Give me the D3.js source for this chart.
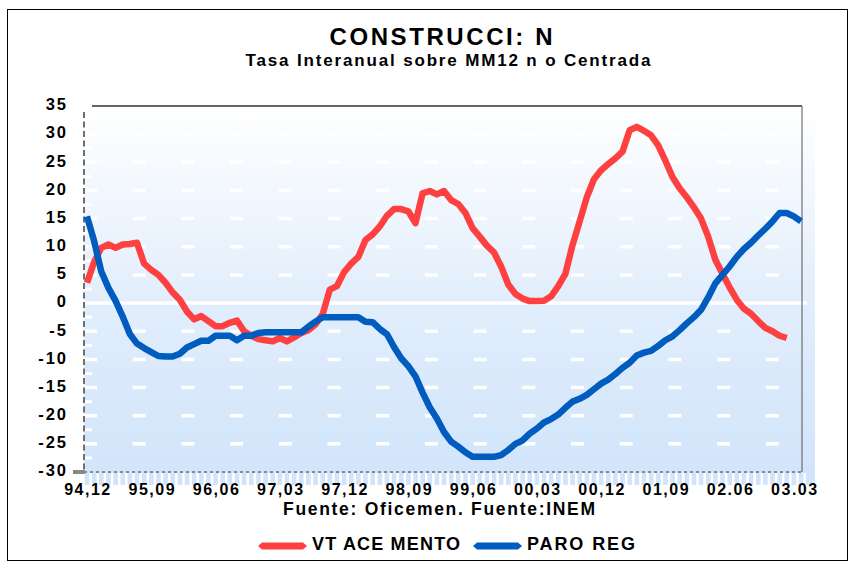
<!DOCTYPE html>
<html>
<head>
<meta charset="utf-8">
<script src="https://cdn.jsdelivr.net/npm/d3@7"></script>
<style>
  body { margin: 0; background: #fff; }
  svg { display: block; font-family: "Liberation Sans", Arial, sans-serif; font-weight: bold; }
</style>
</head>
<body>
<div id="chart"></div>
<script>
// ---------------------------------------------------------------------------
// Data (monthly, starting 94,12)
// ---------------------------------------------------------------------------
const tickIndex  = [0, 9, 18, 27, 36, 45, 54, 63, 72, 81, 90, 99];
const tickLabels = ['94,12', '95,09', '96,06', '97,03', '97,12', '98,09',
                    '99,06', '00,03', '00,12', '01,09', '02.06', '03.03'];
const yTicks     = [35, 30, 25, 20, 15, 10, 5, 0, -5, -10, -15, -20, -25, -30];

const vtAcemento = [
  3.6, 7.3, 9.8, 10.4, 9.8, 10.4, 10.5, 10.7, 7.0, 5.9,
  5.0, 3.6, 1.9, 0.6, -1.5, -2.9, -2.3, -3.2, -4.1, -4.1,
  -3.5, -3.1, -5.0, -5.8, -6.4, -6.6, -6.8, -6.2, -6.8, -6.1,
  -5.3, -4.8, -3.8, -2.0, 2.4, 3.0, 5.5, 7.0, 8.2, 11.2,
  12.2, 13.6, 15.5, 16.7, 16.7, 16.3, 14.2, 19.5, 19.9, 19.3,
  19.9, 18.3, 17.6, 16.0, 13.3, 11.8, 10.2, 9.0, 6.5, 3.3,
  1.6, 0.8, 0.35, 0.35, 0.4, 1.2, 3.0, 5.2, 10.3, 14.5,
  18.8, 22.0, 23.6, 24.7, 25.7, 26.9, 30.7, 31.3, 30.6, 29.8,
  28.0, 25.3, 22.4, 20.4, 18.8, 17.0, 15.0, 11.8, 7.7, 5.2,
  2.8, 0.6, -1.0, -1.9, -3.2, -4.4, -5.0, -5.8, -6.2
];

const paroReg = [
  15.4, 11.0, 5.6, 2.7, 0.4, -2.4, -5.5, -7.2, -8.0, -8.7,
  -9.4, -9.5, -9.5, -9.0, -7.9, -7.3, -6.7, -6.7, -5.8, -5.8,
  -5.8, -6.6, -5.8, -5.8, -5.3, -5.2, -5.2, -5.2, -5.2, -5.2,
  -5.2, -4.2, -3.3, -2.5, -2.5, -2.5, -2.5, -2.5, -2.5, -3.3,
  -3.4, -4.6, -5.5, -7.8, -9.8, -11.2, -13.0, -15.9, -18.5, -20.5,
  -22.9, -24.6, -25.5, -26.5, -27.3, -27.3, -27.3, -27.3, -27.0, -26.1,
  -25.0, -24.4, -23.2, -22.3, -21.2, -20.6, -19.8, -18.6, -17.5, -17.0,
  -16.3, -15.3, -14.3, -13.6, -12.6, -11.5, -10.6, -9.3, -8.8, -8.5,
  -7.6, -6.6, -5.9, -4.8, -3.6, -2.5, -1.2, 1.0, 3.5, 5.0,
  6.5, 8.2, 9.6, 10.7, 12.0, 13.2, 14.5, 16.0, 16.0, 15.4,
  14.5
];

// ---------------------------------------------------------------------------
// Setup
// ---------------------------------------------------------------------------
const W = 854, H = 565;
const COL_RED  = '#ff4040';
const COL_BLUE = '#005cbf';

const svg = d3.select('#chart').append('svg')
  .attr('width', W)
  .attr('height', H);

const x = d3.scaleLinear().domain([0, 100]).range([87, 801]);
const y = d3.scaleLinear().domain([-30, 35]).range([472, 106]);

// outer frame
svg.append('rect')
  .attr('x', 7.5).attr('y', 9.5)
  .attr('width', 840).attr('height', 551)
  .attr('fill', 'none')
  .attr('stroke', '#000')
  .attr('stroke-width', 1);

// titles
svg.append('text')
  .attr('x', 441).attr('y', 45)
  .attr('text-anchor', 'middle')
  .attr('font-size', 24)
  .attr('textLength', 223).attr('lengthAdjust', 'spacing')
  .text('CONSTRUCCI: N');

svg.append('text')
  .attr('x', 448).attr('y', 65.5)
  .attr('text-anchor', 'middle')
  .attr('font-size', 17)
  .attr('textLength', 405).attr('lengthAdjust', 'spacing')
  .text('Tasa Interanual sobre MM12 n o Centrada');

// ---------------------------------------------------------------------------
// Plot background
// ---------------------------------------------------------------------------
const defs = svg.append('defs');
const grad = defs.append('linearGradient')
  .attr('id', 'bg').attr('x1', 0).attr('y1', 0).attr('x2', 0).attr('y2', 1);
grad.append('stop').attr('offset', '0%').attr('stop-color', '#ffffff');
grad.append('stop').attr('offset', '50%').attr('stop-color', '#e2eefc');
grad.append('stop').attr('offset', '100%').attr('stop-color', '#d0e4fa');

svg.append('rect')
  .attr('x', 84).attr('y', 106)
  .attr('width', 731).attr('height', 379)
  .attr('fill', 'url(#bg)');

// white month ticks below the axis
svg.append('g')
  .selectAll('line')
  .data(d3.range(0, 102))
  .join('line')
  .attr('x1', d => x(d) - 3.5).attr('x2', d => x(d) - 3.5)
  .attr('y1', 473).attr('y2', 485)
  .attr('stroke', '#fff')
  .attr('stroke-width', 2.5);

// dashed grid
svg.append('g')
  .selectAll('line')
  .data(yTicks.filter(v => v !== 0 && v !== 35 && v !== -30))
  .join('line')
  .attr('x1', 84).attr('x2', 802)
  .attr('y1', d => y(d)).attr('y2', d => y(d))
  .attr('stroke', '#fff')
  .attr('stroke-width', 3.5)
  .attr('stroke-dasharray', '13,35.7');

// short minor marks on the left edge
svg.append('g')
  .selectAll('line')
  .data(d3.range(-27.5, 35, 5))
  .join('line')
  .attr('x1', 84).attr('x2', 92)
  .attr('y1', d => y(d)).attr('y2', d => y(d))
  .attr('stroke', '#fff')
  .attr('stroke-width', 3);

// zero line
svg.append('line')
  .attr('x1', 84).attr('x2', 807)
  .attr('y1', y(0)).attr('y2', y(0))
  .attr('stroke', '#fff')
  .attr('stroke-width', 3.5);

// borders
svg.append('line')
  .attr('x1', 92).attr('x2', 802).attr('y1', 106).attr('y2', 106)
  .attr('stroke', '#333').attr('stroke-width', 1.5);
svg.append('line')
  .attr('x1', 802).attr('x2', 802).attr('y1', 106).attr('y2', 472)
  .attr('stroke', '#555').attr('stroke-width', 1);
svg.append('line')
  .attr('x1', 84).attr('x2', 802).attr('y1', 472).attr('y2', 472)
  .attr('stroke', '#333').attr('stroke-width', 1)
  .attr('stroke-dasharray', '3,3');
svg.append('line')
  .attr('x1', 84).attr('x2', 84).attr('y1', 112).attr('y2', 472)
  .attr('stroke', '#707070').attr('stroke-width', 2)
  .attr('stroke-dasharray', '6,3.5');
svg.append('rect')
  .attr('x', 73).attr('y', 470).attr('width', 12).attr('height', 4)
  .attr('fill', '#888');

// ---------------------------------------------------------------------------
// Axis labels
// ---------------------------------------------------------------------------
svg.append('g')
  .selectAll('text')
  .data(yTicks)
  .join('text')
  .attr('x', 68)
  .attr('y', d => y(d) - 1.5)
  .attr('dy', '0.35em')
  .attr('text-anchor', 'end')
  .attr('font-size', 16.5)
  .attr('letter-spacing', 2)
  .text(d => d);

svg.append('g')
  .selectAll('text')
  .data(tickIndex)
  .join('text')
  .attr('x', d => x(d) + 1)
  .attr('y', 495)
  .attr('text-anchor', 'middle')
  .attr('font-size', 16)
  .attr('letter-spacing', 1.5)
  .text((d, i) => tickLabels[i]);

// ---------------------------------------------------------------------------
// Series
// ---------------------------------------------------------------------------
const line = d3.line()
  .x((d, i) => x(i))
  .y(d => y(d));

svg.append('path')
  .datum(vtAcemento)
  .attr('d', line)
  .attr('fill', 'none')
  .attr('stroke', COL_RED)
  .attr('stroke-width', 6.5)
  .attr('stroke-linejoin', 'round');

svg.append('path')
  .datum(paroReg)
  .attr('d', line)
  .attr('fill', 'none')
  .attr('stroke', COL_BLUE)
  .attr('stroke-width', 6.5)
  .attr('stroke-linejoin', 'round');

// ---------------------------------------------------------------------------
// Source + legend
// ---------------------------------------------------------------------------
svg.append('text')
  .attr('x', 439).attr('y', 515)
  .attr('text-anchor', 'middle')
  .attr('font-size', 17.5)
  .attr('textLength', 312).attr('lengthAdjust', 'spacing')
  .text('Fuente: Oficemen. Fuente:INEM');

function legendItem(x0, color, label, len) {
  const g = svg.append('g');
  g.append('path')
    .attr('d', `M${x0},546 L${x0 + 4},542.5 L${x0 + 45},542.5 L${x0 + 49},546 L${x0 + 45},549.5 L${x0 + 4},549.5 Z`)
    .attr('fill', color);
  g.append('text')
    .attr('x', x0 + 54).attr('y', 550)
    .attr('font-size', 18)
    .attr('textLength', len).attr('lengthAdjust', 'spacing')
    .text(label);
}
legendItem(258, COL_RED, 'VT ACE MENTO', 148);
legendItem(473, COL_BLUE, 'PARO REG', 108);
</script>
</body>
</html>
